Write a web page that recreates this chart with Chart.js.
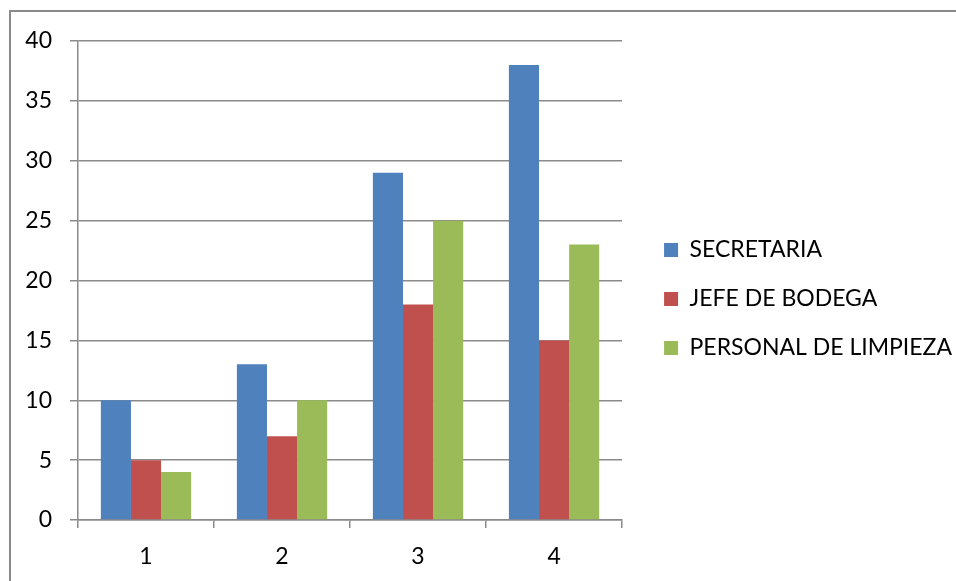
<!DOCTYPE html>
<html>
<head>
<meta charset="utf-8">
<script src="https://cdn.jsdelivr.net/npm/chart.js@4"></script>
<style>
  html, body { margin: 0; padding: 0; background: #fff; }
  #wrap { position: relative; width: 956px; height: 581px; }
  #frame { position: absolute; left: 9px; top: 10px; right: 0; bottom: 0;
           border-top: 2px solid #8a8a8a; border-left: 2px solid #8a8a8a; }
  canvas { position: absolute; left: 0; top: 0; }
</style>
</head>
<body>
<div id="wrap">
  <div id="frame"></div>
  <canvas id="chart" width="956" height="581"></canvas>
</div>
<script>
let categories = ['1', '2', '3', '4'];
let secretaria = [10, 13, 29, 38];
let jefeBodega = [5, 7, 18, 15];
let personalLimpieza = [4, 10, 25, 23];

let ctx1 = document.getElementById('chart').getContext('2d');
let fontFam = 'Lato, "Open Sans", sans-serif';
let gridColor = '#8a8a8a';

// put the legend a bit away from the plot, like the original
const legendShift = {
    id: 'legendShift',
    afterLayout(chart) {
        let l = chart.legend;
        let dx = chart.chartArea.right + 42 - (l.left + 26);
        l.left += dx; l.right += dx;
        l.top -= 12; l.bottom -= 12;
    }
};

let myChart = new Chart(ctx1, {
    type: 'bar',
    data: {
        labels: categories,
        datasets: [{
            label: 'SECRETARIA',
            data: secretaria,
            backgroundColor: '#4f81bd'
        },
        {
            label: 'JEFE DE BODEGA',
            data: jefeBodega,
            backgroundColor: '#c0504d'
        },
        {
            label: 'PERSONAL DE LIMPIEZA',
            data: personalLimpieza,
            backgroundColor: '#9bbb59'
        }]
    },
    options: {
        responsive: false,
        animation: false,
        devicePixelRatio: 1,
        layout: {
            padding: { top: 41, left: 0, right: 10, bottom: 0 }
        },
        datasets: {
            bar: { barPercentage: 1, categoryPercentage: 0.664 }
        },
        plugins: {
            legend: {
                position: 'right',
                maxWidth: 500,
                labels: {
                    color: '#000',
                    boxWidth: 14,
                    boxHeight: 14,
                    padding: 26,
                    font: { family: fontFam, size: 23 }
                }
            },
            tooltip: { enabled: false }
        },
        scales: {
            y: {
                min: 0,
                max: 40,
                afterFit: function(scale) { scale.width = 78; },
                ticks: {
                    stepSize: 5,
                    color: '#000',
                    padding: 18,
                    font: { family: fontFam, size: 23 }
                },
                grid: {
                    color: gridColor,
                    lineWidth: 1.5,
                    tickLength: 8
                },
                border: { color: gridColor, width: 1.5 }
            },
            x: {
                afterFit: function(scale) { scale.height = 61; },
                ticks: {
                    color: '#000',
                    padding: 15,
                    font: { family: fontFam, size: 23 }
                },
                grid: {
                    offset: true,
                    drawOnChartArea: false,
                    color: gridColor,
                    lineWidth: 1.5,
                    tickLength: 8
                },
                border: { color: gridColor, width: 1.5 }
            }
        }
    },
    plugins: [legendShift]
});
</script>
</body>
</html>
